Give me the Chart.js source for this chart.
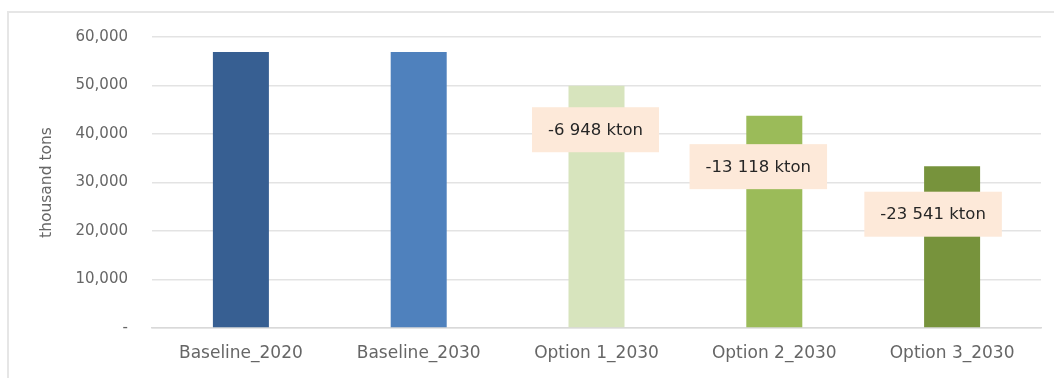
<!DOCTYPE html>
<html>
<head>
<meta charset="utf-8">
<script src="https://cdn.jsdelivr.net/npm/chart.js@4"></script>
<style>
  html, body { margin: 0; padding: 0; background: #fff; }
  #wrap { position: relative; width: 1054px; height: 378px; overflow: hidden; }
  #frame { position: absolute; left: 7px; top: 11px; right: -10px; bottom: -10px;
           border-left: 2px solid #e6e6e6; border-top: 2px solid #e6e6e6; }
  canvas { position: absolute; left: 0; top: 0; }
</style>
</head>
<body>
<div id="wrap">
  <div id="frame"></div>
  <canvas id="chart" width="1054" height="378"></canvas>
</div>
<script>
  const categories = ['Baseline_2020', 'Baseline_2030', 'Option 1_2030', 'Option 2_2030', 'Option 3_2030'];
  const values = [56900, 56900, 49952, 43782, 33359];
  const reductions = [null, null, -6948, -13118, -23541];
  const barColors = ['#375f92', '#4f81bd', '#d7e4bd', '#9bbb59', '#77933c'];
  const yTicks = [0, 10000, 20000, 30000, 40000, 50000, 60000];

  const fmtKton = v => {
    const s = Math.abs(v).toString().replace(/\B(?=(\d{3})+(?!\d))/g, ' ');
    return (v < 0 ? '-' : '') + s + ' kton';
  };

  // boxes with the reduction next to each option bar
  const reductionBoxes = {
    id: 'reductionBoxes',
    afterDatasetsDraw(chart, args, opts) {
      const ctx = chart.ctx;
      const meta = chart.getDatasetMeta(0);
      ctx.save();
      ctx.font = '16.5px "DejaVu Sans"';
      ctx.textAlign = 'center';
      ctx.textBaseline = 'middle';
      reductions.forEach((r, i) => {
        if (r === null) return;
        const bar = meta.data[i];
        const cx = bar.x + opts.dx[i];
        const cy = bar.y + opts.dy[i];
        const w = ctx.measureText(fmtKton(r)).width + 32;
        const h = 45;
        ctx.fillStyle = '#fde9d9';
        ctx.fillRect(cx - w / 2, cy - h / 2, w, h);
        ctx.fillStyle = '#262626';
        ctx.fillText(fmtKton(r), cx, cy + 1);
      });
      ctx.restore();
    }
  };

  new Chart(document.getElementById('chart'), {
    type: 'bar',
    data: {
      labels: categories,
      datasets: [{
        data: values,
        backgroundColor: barColors,
        barPercentage: 0.315,
        categoryPercentage: 1
      }]
    },
    options: {
      responsive: false,
      animation: false,
      layout: { padding: { top: 37, right: 13, left: 0, bottom: 0 } },
      plugins: {
        legend: { display: false },
        tooltip: { enabled: false },
        reductionBoxes: { dx: [0, 0, -1, -16, -19], dy: [0, 0, 44, 51, 48] }
      },
      scales: {
        x: {
          grid: { display: false, drawTicks: false },
          border: { display: true, color: '#d9d9d9', width: 1.5 },
          ticks: { color: '#666666', font: { family: 'DejaVu Sans', size: 17 }, padding: 15, maxRotation: 0 },
          afterFit(scale) { scale.height = 50; }
        },
        y: {
          min: 0,
          max: 60000,
          afterBuildTicks(scale) { scale.ticks = yTicks.map(v => ({ value: v })); },
          grid: { color: '#e3e3e3', lineWidth: 1.5, drawTicks: false },
          border: { display: false },
          ticks: {
            color: '#666666',
            font: { family: 'DejaVu Sans', size: 15 },
            padding: 24,
            callback: v => v === 0 ? '-' : v.toLocaleString('en-US')
          },
          title: {
            display: true,
            text: 'thousand tons',
            color: '#666666',
            font: { family: 'DejaVu Sans', size: 15.5 },
            padding: { top: 38, bottom: 0 }
          },
          afterFit(scale) { scale.width = 152; }
        }
      }
    },
    plugins: [reductionBoxes]
  });
</script>
</body>
</html>
